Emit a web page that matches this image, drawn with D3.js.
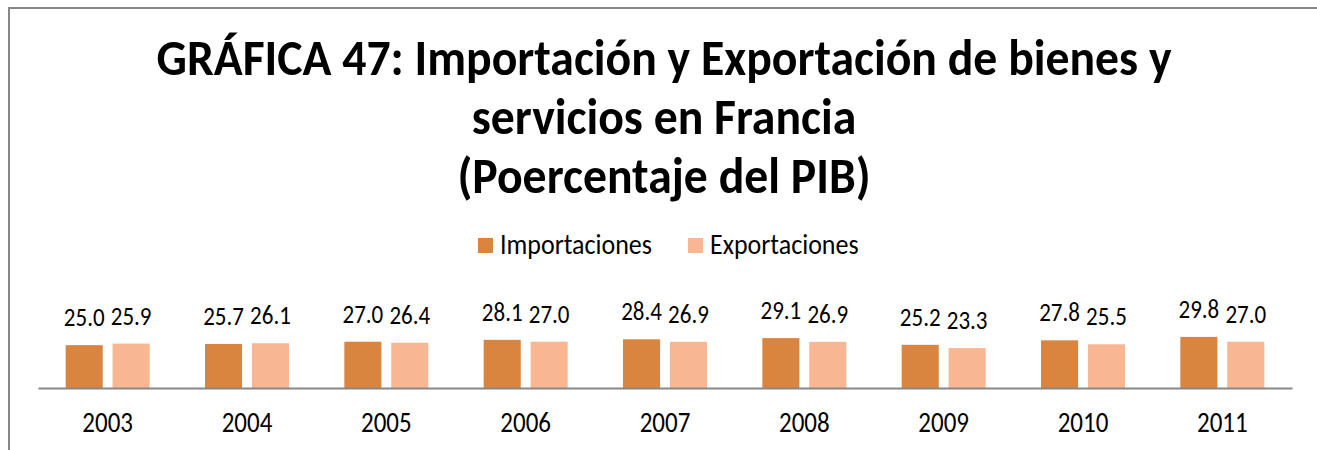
<!DOCTYPE html>
<html>
<head>
<meta charset="utf-8">
<script src="https://cdn.jsdelivr.net/npm/d3@7"></script>
<style>
  html, body { margin: 0; padding: 0; background: #fff; }
  svg { display: block; }
  text { font-family: Carlito, Calibri, Lato, "Open Sans", sans-serif; fill: #000; }
</style>
</head>
<body>
<svg id="chart" width="1317" height="450"></svg>
<script>
// Datos: importación y exportación de bienes y servicios en Francia (% del PIB)
const years = ["2003", "2004", "2005", "2006", "2007", "2008", "2009", "2010", "2011"];
const importaciones = [25.0, 25.7, 27.0, 28.1, 28.4, 29.1, 25.2, 27.8, 29.8];
const exportaciones = [25.9, 26.1, 26.4, 27.0, 26.9, 26.9, 23.3, 25.5, 27.0];
const seriesNames = ["Importaciones", "Exportaciones"];
const seriesColors = ["#DA853F", "#F9B692"];
const titleLines = [
  "GRÁFICA 47: Importación y Exportación de bienes y",
  "servicios en Francia",
  "(Poercentaje del PIB)"
];

const svg = d3.select("#chart");
const W = 1317, H = 450;

// Marco del gráfico
svg.append("path")
  .attr("d", `M9,${H} L9,8 L${W},8`)
  .attr("fill", "none")
  .attr("stroke", "#878787")
  .attr("stroke-width", 2);

// Título en tres líneas; el tamaño se ajusta al ancho de la primera línea
const titleBaselines = [75, 134, 193];
const titleStretch = 1.04;
const titleTexts = svg.append("g").selectAll("text")
  .data(titleLines)
  .join("text")
  .attr("transform", (d, i) => `translate(664,${titleBaselines[i]}) scale(1,${titleStretch})`)
  .attr("text-anchor", "middle")
  .attr("font-weight", "bold")
  .attr("font-size", 40)
  .text(d => d);
const w0 = titleTexts.node().getComputedTextLength();
titleTexts.attr("font-size", 40 * 1015 / w0);

// Escalas
const x = d3.scaleBand().domain(years).range([38, 1292]).padding(0);
const xs = d3.scaleBand().domain(seriesNames).range([0, x.bandwidth()])
  .paddingInner(0.21).paddingOuter(0.59);
const y = d3.scaleLinear().domain([0, 35]).range([388, 328]);

const rows = years.map((yr, i) => ({
  year: yr,
  values: [
    { name: seriesNames[0], value: importaciones[i], color: seriesColors[0] },
    { name: seriesNames[1], value: exportaciones[i], color: seriesColors[1] }
  ]
}));

const groups = svg.append("g").selectAll("g")
  .data(rows)
  .join("g")
  .attr("transform", d => `translate(${x(d.year)},0)`);

groups.selectAll("rect")
  .data(d => d.values)
  .join("rect")
  .attr("x", d => xs(d.name))
  .attr("y", d => y(d.value))
  .attr("width", xs.bandwidth())
  .attr("height", d => y(0) - y(d.value))
  .attr("fill", d => d.color);

// Etiquetas de valor sobre cada barra
const textStretch = 1.15;
groups.selectAll("text.val")
  .data(d => d.values)
  .join("text")
  .attr("class", "val")
  .attr("transform", d => `translate(${xs(d.name) + xs.bandwidth() / 2},${y(d.value) - 19}) scale(1,${textStretch})`)
  .attr("text-anchor", "middle")
  .attr("font-size", 23)
  .text(d => d3.format(".1f")(d.value));

// Eje horizontal
const xAxis = svg.append("g")
  .attr("transform", `translate(0,${y(0)})`)
  .call(d3.axisBottom(x).tickSize(0));
xAxis.select(".domain").attr("stroke", "#878787").attr("stroke-width", 2);
xAxis.selectAll(".tick text")
  .attr("y", 0)
  .attr("dy", null)
  .attr("transform", `translate(0,44) scale(1,${textStretch})`)
  .attr("font-size", 25)
  .attr("font-family", "Carlito, Calibri, Lato, 'Open Sans', sans-serif")
  .attr("fill", "#000");

// Leyenda
const legend = svg.append("g");
const legendX = [478, 688];
seriesNames.forEach((name, i) => {
  legend.append("rect")
    .attr("x", legendX[i]).attr("y", 238)
    .attr("width", 15).attr("height", 15)
    .attr("fill", seriesColors[i]);
  legend.append("text")
    .attr("transform", `translate(${legendX[i] + 22},254) scale(1,1.08)`)
    .attr("font-size", 26)
    .text(name);
});
</script>
</body>
</html>
